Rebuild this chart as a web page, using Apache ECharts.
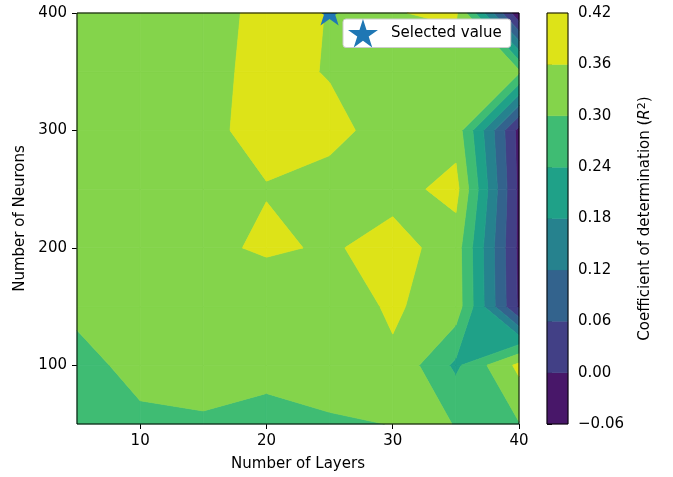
<!DOCTYPE html>
<html><head><meta charset="utf-8">
<script src="https://cdn.jsdelivr.net/npm/echarts@6/dist/echarts.min.js"></script>
<style>html,body{margin:0;padding:0;background:#fff}#c{width:673px;height:477px}</style>
</head><body><div id="c"></div>
<script>
// ---- data ----
const layers  = [5, 10, 15, 20, 25, 30, 35, 40];
const neurons = [50, 100, 150, 200, 250, 300, 350, 400];
// R^2 values, one array per neuron count, ordered by layers
const r2_n50  = [0.260, 0.277, 0.290, 0.262, 0.290, 0.3015, 0.2999, 0.297];
const r2_n100 = [0.263, 0.335, 0.335, 0.335, 0.340, 0.3525, 0.2275, 0.375];
const r2_n150 = [0.325, 0.335, 0.340, 0.302, 0.334, 0.3666, 0.334, -0.010];
const r2_n200 = [0.330, 0.335, 0.342, 0.371, 0.352, 0.385, 0.330, -0.015];
const r2_n250 = [0.330, 0.335, 0.340, 0.357, 0.336, 0.338, 0.380, -0.015];
const r2_n300 = [0.330, 0.340, 0.346, 0.379, 0.378, 0.334, 0.335, -0.020];
const r2_n350 = [0.330, 0.335, 0.340, 0.380, 0.356, 0.340, 0.323, 0.310];
const r2_n400 = [0.330, 0.335, 0.330, 0.381, 0.358, 0.357, 0.370, -0.050];
const levels  = [-0.06, 0.00, 0.06, 0.12, 0.18, 0.24, 0.30, 0.36, 0.42];
const bandColors = ['#481769', '#424086', '#33638d', '#26828e', '#1fa188', '#3fbc73', '#84d44b', '#dde318'];
const selectedPoint = [25, 400];
const xTicks = [10, 20, 30, 40];
const yTicks = [100, 200, 300, 400];

const grid = [r2_n50, r2_n100, r2_n150, r2_n200, r2_n250, r2_n300, r2_n350, r2_n400];

// ---- filled-contour helpers (cell-local coords u,v in [0,1]) ----
function clipPoly(poly, thr, keepAbove) {
  const out = [];
  const n = poly.length;
  for (let i = 0; i < n; i++) {
    const a = poly[i], b = poly[(i + 1) % n];
    const ina = keepAbove ? a[2] >= thr : a[2] <= thr;
    const inb = keepAbove ? b[2] >= thr : b[2] <= thr;
    if (ina) out.push(a);
    if (ina !== inb) {
      const t = (thr - a[2]) / (b[2] - a[2]);
      out.push([a[0] + t * (b[0] - a[0]), a[1] + t * (b[1] - a[1]), thr]);
    }
  }
  return out;
}
function interp(a, b, L) {
  const t = (L - a[2]) / (b[2] - a[2]);
  return [a[0] + t * (b[0] - a[0]), a[1] + t * (b[1] - a[1]), L];
}
// region of the cell above (or below) level L, as convex polygons with straight chords
function regionPolys(corners, L, above) {
  const s = corners.map(c => c[2] >= L);
  const saddle = s[0] === s[2] && s[1] === s[3] && s[0] !== s[1];
  if (!saddle) {
    const p = clipPoly(corners, L, above);
    return p.length >= 3 ? [p] : [];
  }
  const mid = (corners[0][2] + corners[1][2] + corners[2][2] + corners[3][2]) / 4;
  const highConnected = mid >= L;
  if (above === highConnected) return [clipPoly(corners, L, above)];
  const tris = [];
  for (let k = 0; k < 4; k++) {
    if (s[k] === above) {
      const ck = corners[k], cn = corners[(k + 1) % 4], cp = corners[(k + 3) % 4];
      tris.push([ck, interp(ck, cn, L), interp(cp, ck, L)]);
    }
  }
  return tris;
}
function convexClip(A, B) {
  let cx = 0, cy = 0;
  B.forEach(p => { cx += p[0]; cy += p[1]; });
  cx /= B.length; cy /= B.length;
  let out = A.map(p => [p[0], p[1]]);
  for (let i = 0; i < B.length && out.length; i++) {
    const p = B[i], q = B[(i + 1) % B.length];
    const ex = q[0] - p[0], ey = q[1] - p[1];
    if (Math.abs(ex) + Math.abs(ey) < 1e-9) continue;
    const side = c => ex * (c[1] - p[1]) - ey * (c[0] - p[0]);
    const sc = side([cx, cy]);
    if (Math.abs(sc) < 1e-12) continue;
    const sg = sc > 0 ? 1 : -1;
    const inp = out; out = [];
    for (let j = 0; j < inp.length; j++) {
      const a = inp[j], b = inp[(j + 1) % inp.length];
      const da = side(a) * sg, db = side(b) * sg;
      const ia = da >= -1e-9, ib = db >= -1e-9;
      if (ia) out.push(a);
      if (ia !== ib) {
        const t = da / (da - db);
        out.push([a[0] + t * (b[0] - a[0]), a[1] + t * (b[1] - a[1])]);
      }
    }
  }
  return out;
}
function cellPolys(ci, rj) {
  const corners = [[0, 0, grid[rj][ci]], [1, 0, grid[rj][ci + 1]], [1, 1, grid[rj + 1][ci + 1]], [0, 1, grid[rj + 1][ci]]];
  const x0 = layers[ci], x1 = layers[ci + 1], y0 = neurons[rj], y1 = neurons[rj + 1];
  const out = [];
  for (let b = 0; b < bandColors.length; b++) {
    const As = regionPolys(corners, levels[b], true);
    const Bs = regionPolys(corners, levels[b + 1], false);
    for (const A of As) for (const B of Bs) {
      const P = convexClip(A, B);
      if (P.length < 3) continue;
      out.push({ band: b, pts: P.map(p => [x0 + p[0] * (x1 - x0), y0 + p[1] * (y1 - y0)]) });
    }
  }
  return out;
}

const cells = [];
for (let rj = 0; rj < neurons.length - 1; rj++)
  for (let ci = 0; ci < layers.length - 1; ci++)
    cells.push([layers[ci], neurons[rj], ci, rj]);

function starPoints(cx, cy, R) {
  const r = R * 0.381966, pts = [];
  for (let k = 0; k < 10; k++) {
    const ang = -Math.PI / 2 + k * Math.PI / 5;
    const rr = k % 2 === 0 ? R : r;
    pts.push([cx + rr * Math.cos(ang), cy + rr * Math.sin(ang)]);
  }
  return pts;
}
const starIcon = 'path://' + starPoints(0, 0, 10).map((p, i) => (i ? 'L' : 'M') + p[0].toFixed(3) + ' ' + p[1].toFixed(3)).join(' ') + ' Z';

const FONT = 'DejaVu Sans';
const FS = 15;
const fmtLevel = v => (v < -1e-9 ? '\u2212' : '') + Math.abs(v).toFixed(2);

const chart = echarts.init(document.getElementById('c'), null, { renderer: 'canvas' });
chart.setOption({
  animation: false,
  backgroundColor: '#fff',
  textStyle: { fontFamily: FONT },
  grid: [
    { left: 77, top: 13, width: 442, height: 411, show: true, borderColor: '#000', borderWidth: 1, backgroundColor: 'transparent', z: 10 },
    { left: 547, top: 13, width: 21, height: 411, show: true, borderColor: '#000', borderWidth: 1, backgroundColor: 'transparent', z: 10 }
  ],
  legend: {
    data: [{ name: 'Selected value', icon: starIcon }],
    left: 343, top: 19,
    itemWidth: 30, itemHeight: 28.5,
    padding: [0, 9, 0, 5],
    backgroundColor: '#fff', borderColor: '#cccccc', borderWidth: 1, borderRadius: 3,
    textStyle: { fontFamily: FONT, fontSize: FS, color: '#000', padding: [0, 0, 0, 8] },
    selectedMode: false
  },
  xAxis: [
    {
      gridIndex: 0, type: 'value', min: 5, max: 40,
      name: 'Number of Layers', nameLocation: 'middle', nameGap: 33,
      nameTextStyle: { fontFamily: FONT, fontSize: FS, color: '#000' },
      axisLine: { show: false },
      axisTick: { show: true, length: 5, lineStyle: { color: '#000' }, customValues: xTicks },
      axisLabel: { fontFamily: FONT, fontSize: FS, color: '#000', margin: 10, customValues: xTicks },
      splitLine: { show: false }
    },
    { gridIndex: 1, type: 'value', min: 0, max: 1, show: false }
  ],
  yAxis: [
    {
      gridIndex: 0, type: 'value', min: 50, max: 400,
      name: 'Number of Neurons', nameLocation: 'middle', nameGap: 46, nameRotate: 90,
      nameTextStyle: { fontFamily: FONT, fontSize: FS, color: '#000' },
      axisLine: { show: false },
      axisTick: { show: true, length: 5, lineStyle: { color: '#000' }, customValues: yTicks },
      axisLabel: { fontFamily: FONT, fontSize: FS, color: '#000', margin: 10, customValues: yTicks },
      splitLine: { show: false }
    },
    {
      gridIndex: 1, type: 'value', min: -0.06, max: 0.42, position: 'right',
      name: '{n|Coefficient of determination (}{i|R}{s|2}{n|)}',
      nameLocation: 'middle', nameGap: 69, nameRotate: 90,
      nameTextStyle: {
        fontFamily: FONT, fontSize: FS, color: '#000',
        rich: {
          n: { fontFamily: FONT, fontSize: FS, color: '#000' },
          i: { fontFamily: FONT, fontSize: FS, color: '#000', fontStyle: 'italic' },
          s: { fontFamily: FONT, fontSize: 11, color: '#000', verticalAlign: 'top', padding: [0, 0, 6, 0] }
        }
      },
      axisLine: { show: false },
      axisTick: { show: true, length: 5, lineStyle: { color: '#000' }, customValues: levels },
      axisLabel: { fontFamily: FONT, fontSize: FS, color: '#000', margin: 10, customValues: levels, formatter: fmtLevel },
      splitLine: { show: false }
    }
  ],
  series: [
    {
      type: 'custom', name: 'contour', xAxisIndex: 0, yAxisIndex: 0, silent: true, z: 1,
      data: cells, encode: { x: 0, y: 1 },
      renderItem: function (params, api) {
        const polys = cellPolys(api.value(2), api.value(3));
        return {
          type: 'group',
          children: polys.map(p => ({
            type: 'polygon',
            shape: { points: p.pts.map(pt => api.coord([pt[0], pt[1]])) },
            style: { fill: bandColors[p.band], stroke: bandColors[p.band], lineWidth: 0.8 }
          }))
        };
      }
    },
    {
      type: 'custom', name: 'Selected value', xAxisIndex: 0, yAxisIndex: 0, z: 5, clip: true,
      itemStyle: { color: '#1f77b4' },
      data: [selectedPoint], encode: { x: 0, y: 1 },
      renderItem: function (params, api) {
        const c = api.coord([api.value(0), api.value(1)]);
        return { type: 'polygon', shape: { points: starPoints(c[0], c[1], 15.5) }, style: { fill: '#1f77b4' } };
      }
    },
    {
      type: 'custom', name: 'colorbar', xAxisIndex: 1, yAxisIndex: 1, silent: true, z: 1,
      data: bandColors.map((c, i) => [0, levels[i], levels[i + 1], i]), encode: { x: 0, y: 1 },
      renderItem: function (params, api) {
        const p1 = api.coord([0, api.value(2)]);
        const p2 = api.coord([1, api.value(1)]);
        const col = bandColors[api.value(3)];
        return { type: 'rect', shape: { x: p1[0], y: p1[1], width: p2[0] - p1[0], height: p2[1] - p1[1] }, style: { fill: col, stroke: col, lineWidth: 0.5 } };
      }
    }
  ]
});
</script>
</body></html>
